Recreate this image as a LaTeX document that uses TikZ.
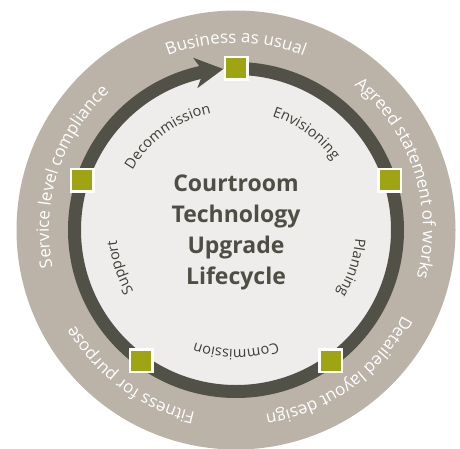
\documentclass[tikz,border=0pt]{standalone}
\usepackage{fontspec}
\setmainfont{Open Sans}
\usetikzlibrary{decorations.text, arrows.meta, bending}
\definecolor{outerc}{RGB}{187,178,168}
\definecolor{ringc}{RGB}{82,81,72}
\definecolor{innerc}{RGB}{238,237,236}
\definecolor{sqc}{RGB}{159,164,18}
\definecolor{titlec}{RGB}{78,78,68}
\definecolor{labelc}{RGB}{62,62,56}
\newcommand\outerfmt{\color{white}\fontsize{17}{17}\selectfont}
\newcommand\innerfmt{\color{labelc}\fontsize{14.5}{14.5}\selectfont}
\newcommand\ringlabel[4]{%
  \pgfmathsetmacro\lblstart{#2+80}%
  \pgfmathsetmacro\lblend{#2-80}%
  \path[decorate, decoration={text along path, text align=center, text={|#3|#4}}]
    ([shift={(\lblstart:#1)}]C) arc[start angle=\lblstart, end angle=\lblend, radius=#1];}
\begin{document}
\begin{tikzpicture}[x=1pt,y=1pt,
  sq/.style={draw=white, line width=2.5pt, fill=sqc, minimum size=22.5pt, inner sep=0pt},
  ringline/.style={draw=ringc, line width=13pt},
  title/.style={font=\bfseries\fontsize{23}{31}\selectfont, text=titlec, align=center}
]
\useasboundingbox (0,0) rectangle (460,448);
\coordinate (C) at (236,218);
\fill[outerc] (C) circle[radius=219.5pt];
\fill[innerc] (C) circle[radius=161.5pt];
\draw[ringline, -{Stealth[length=28pt, width=30pt, inset=8pt]}]
  ([shift={(90:161.5pt)}]C) arc[start angle=90, end angle=-265.5, radius=161.5pt];
\foreach \a/\n in {90/s1, 18/s2, -54/s3, -126/s4, 162/s5}
  \node[sq] (\n) at ([shift={(\a:161.5pt)}]C) {};
\ringlabel{187pt}{90}{\outerfmt}{Business as usual}
\ringlabel{187pt}{18}{\outerfmt}{Agreed statement of works}
\ringlabel{187pt}{-54}{\outerfmt}{Detailed layout design}
\ringlabel{187pt}{-126}{\outerfmt}{Fitness for purpose}
\ringlabel{187pt}{162}{\outerfmt}{Service level compliance}
\ringlabel{119.5pt}{54}{\innerfmt}{Envisioning}
\ringlabel{119.5pt}{-18}{\innerfmt}{Planning}
\ringlabel{119.5pt}{-90}{\innerfmt}{Commission}
\ringlabel{119.5pt}{-162}{\innerfmt}{Support}
\ringlabel{119.5pt}{126}{\innerfmt}{Decommission}
\node[title] (t) at ([yshift=-2pt]C) {Courtroom\\Technology\\Upgrade\\Lifecycle};
\end{tikzpicture}
\end{document}
